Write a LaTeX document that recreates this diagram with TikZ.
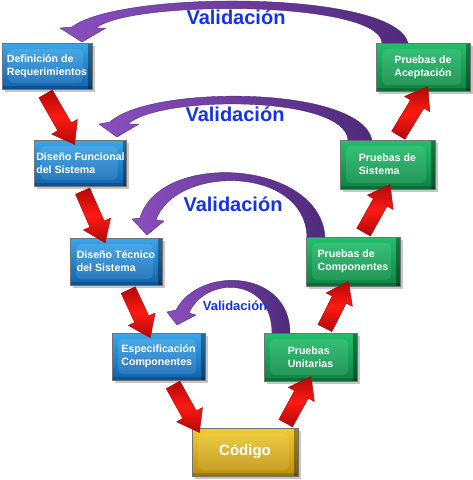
\documentclass[tikz,border=0pt]{standalone}
\usepackage{fontspec}
\setmainfont{Liberation Sans}
\usetikzlibrary{shapes.arrows,arrows.meta,calc,shadows}
\definecolor{blueT}{HTML}{3AA6EA}
\definecolor{blueB}{HTML}{0F62AE}
\definecolor{greenT}{HTML}{22C06C}
\definecolor{greenB}{HTML}{0A8442}
\definecolor{goldT}{HTML}{F0CC30}
\definecolor{goldB}{HTML}{BC8E0C}
\definecolor{valblue}{HTML}{1433E6}
\definecolor{purpL}{HTML}{8B4FBF}
\definecolor{purpD}{HTML}{4F2A7C}
\definecolor{redM}{HTML}{FF1A12}
\definecolor{redD}{HTML}{B00808}
\newcommand{\fatarrow}[2]{%
  \path let \p1=(#1), \p2=(#2), \n1={veclen(\x2-\x1,\y2-\y1)}, \n2={atan2(\y2-\y1,\x2-\x1)} in
    node[redarrow, minimum height=\n1, rotate=\n2] at ($(#1)!0.5!(#2)$) {};}
\begin{document}
\begin{tikzpicture}[x=1pt,y=-1pt,
  stagebase/.style={rectangle, inner sep=2pt, text=white, align=left,
    font=\bfseries\fontsize{10.6}{13}\selectfont,
    draw=black!55, line width=0.4pt,
    drop shadow={shadow xshift=2.5pt,shadow yshift=-2.5pt,opacity=0.45},
    path picture={
      \fill[black,opacity=0.35] ([xshift=-4pt]path picture bounding box.north east) rectangle (path picture bounding box.south east);
      \fill[black,opacity=0.18] ([yshift=3pt]path picture bounding box.south west) rectangle (path picture bounding box.south east);
      \fill[white,opacity=0.10,rounded corners=5pt] ([shift={(6pt,-6pt)}]path picture bounding box.north west) rectangle ([shift={(-9pt,6pt)}]path picture bounding box.south east);
    }},
  bluebox/.style={stagebase, top color=blueT, bottom color=blueB},
  greenbox/.style={stagebase, top color=greenT, bottom color=greenB},
  goldbox/.style={stagebase, top color=goldT, bottom color=goldB},
  redarrow/.style={single arrow, inner sep=7.5pt, single arrow head extend=7pt,
    single arrow tip angle=72, draw=redD, line width=0.5pt,
    top color=redD, bottom color=redD, middle color=redM},
  valtext/.style={text=valblue, font=\bfseries\fontsize{20}{24}\selectfont, inner sep=0pt},
  valarrow/.style={left color=purpL, right color=purpD, draw=purpD, line width=0.4pt, line join=round},
]
\useasboundingbox (0,0) rectangle (473,480);

% stage boxes
\node[bluebox, minimum width=90pt, minimum height=46pt] (def) at (47,66) {Definición de\\Requerimientos};
\node[bluebox, minimum width=91pt, minimum height=46pt] (fun) at (80.5,163) {Diseño Funcional\\del Sistema};
\node[bluebox, minimum width=92pt, minimum height=47pt] (tec) at (116,261.5) {Diseño Técnico\\del Sistema};
\node[bluebox, minimum width=93pt, minimum height=47pt] (esp) at (158.5,356.5) {Especificación\\Componentes};
\node[goldbox, minimum width=106pt, minimum height=48pt, font=\bfseries\fontsize{15}{18}\selectfont] (cod) at (245,452) {Código};
\node[greenbox, minimum width=93pt, minimum height=48pt] (unit) at (310.5,357) {Pruebas\\Unitarias};
\node[greenbox, minimum width=94pt, minimum height=49pt] (comp) at (353,261.5) {Pruebas de\\Componentes};
\node[greenbox, minimum width=95pt, minimum height=49pt] (sis) at (387.5,164.5) {Pruebas de\\Sistema};
\node[greenbox, minimum width=94pt, minimum height=48pt] (acep) at (423,67) {Pruebas de\\Aceptación};

% red flow arrows
\fatarrow{[xshift=-4pt]def.south}{[xshift=-8.5pt]fun.north}
\fatarrow{fun.south}{[xshift=-13pt]tec.north}
\fatarrow{[xshift=10pt]tec.south}{[xshift=-10.5pt]esp.north}
\fatarrow{[xshift=12pt]esp.south}{[xshift=5pt]cod.north west}
\fatarrow{[xshift=-15pt]cod.north east}{[xshift=-2pt]unit.south}
\fatarrow{[xshift=12pt]unit.north}{[xshift=-7pt]comp.south}
\fatarrow{[xshift=8pt]comp.north}{sis.south}
\fatarrow{[xshift=8pt]sis.north}{[xshift=2pt]acep.south}

% validation arrows (crescent bands with heads)
\path[valarrow] (408,43) .. controls (395,-10) and (120,-10) .. (72,27)
  -- (60,28) -- (82,42) -- (106,28) -- (96,28)
  .. controls (130,0) and (380,0) .. (382,43) -- cycle;
\path[valarrow] (372,140) .. controls (360,85) and (150,85) .. (110,122)
  -- (99,124) -- (117,137) -- (139,124) -- (128,124)
  .. controls (160,95) and (345,95) .. (348,140) -- cycle;
\path[valarrow] (325,237) .. controls (320,160) and (160,150) .. (140,218)
  -- (132,219) -- (147,235) -- (164,221) -- (156,220)
  .. controls (175,165) and (305,165) .. (307,237) -- cycle;
\path[valarrow] (290,333) .. controls (290,270) and (200,265) .. (176,310)
  -- (167,312) -- (177,325) -- (196,315) -- (189,313)
  .. controls (205,276) and (272,276) .. (272,333) -- cycle;

% labels
\node[valtext] (v1) at (236,17) {Validación};
\node[valtext] (v2) at (235,114) {Validación};
\node[valtext] (v3) at (233,204) {Validación};
\node[valtext, font=\bfseries\fontsize{13}{15}\selectfont] (v4) at (235,306) {Validación};
\end{tikzpicture}
\end{document}
